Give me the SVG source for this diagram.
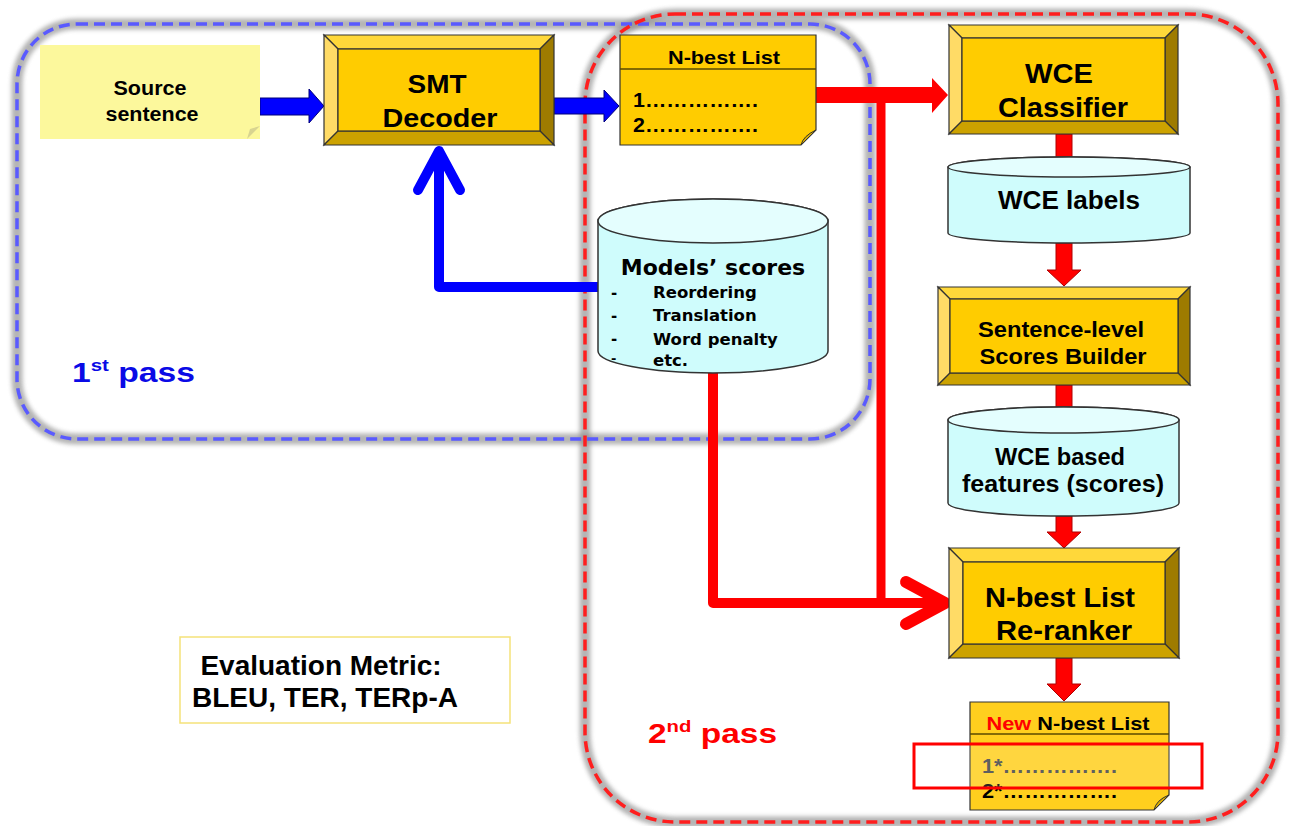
<svg xmlns="http://www.w3.org/2000/svg" width="1290" height="826" viewBox="0 0 1290 826">
<defs>
<filter id="blur" x="-5%" y="-5%" width="110%" height="110%"><feGaussianBlur stdDeviation="2"/></filter>
<style>
.lbl{font-family:"Liberation Sans",Arial,sans-serif;font-weight:bold;fill:#000;text-anchor:middle}
.ver{font-family:"DejaVu Sans",Verdana,sans-serif;font-weight:bold;fill:#000}
.face{fill:#FFCC00;stroke:#333;stroke-width:1.2}
.bt{fill:#FFD83A;stroke:#333;stroke-width:1.2}
.bl{fill:#FFDB66;stroke:#333;stroke-width:1.2}
.br{fill:#9E7B00;stroke:#333;stroke-width:1.2}
.bb{fill:#CCA200;stroke:#333;stroke-width:1.2}
.cyl{fill:#CFFCFC;stroke:#333;stroke-width:1.5}
.cyltop{fill:#E4FEFE;stroke:#333;stroke-width:1.5}
.shadow{fill:none;stroke:#8c8c8c;stroke-width:11;opacity:0.65;filter:url(#blur)}
.note{fill:#FFCC00;stroke:#333;stroke-width:1.2}
.fold{fill:#D9AD00;stroke:#333;stroke-width:1}
.redline{fill:none;stroke:#FF0000;stroke-linejoin:round;stroke-linecap:round}
.downarrow{fill:#FF0000;stroke:#B00000;stroke-width:1}
</style>
</defs>

<g id="regions">
  <path class="shadow" d="M77,24 H810 A60,60 0 0 1 870,84 V379 A60,60 0 0 1 810,439 H77 A60,60 0 0 1 17,379 V84 A60,60 0 0 1 77,24 Z"/>
  <path class="shadow" d="M675,14 H1188 A90,90 0 0 1 1278,104 V732 A90,90 0 0 1 1188,822 H675 A90,90 0 0 1 585,732 V104 A90,90 0 0 1 675,14 Z"/>
  <path id="pass1-border" fill="none" stroke="#5A5AFF" stroke-width="3.5" stroke-dasharray="11 6" d="M77,24 H810 A60,60 0 0 1 870,84 V379 A60,60 0 0 1 810,439 H77 A60,60 0 0 1 17,379 V84 A60,60 0 0 1 77,24 Z"/>
  <path id="pass2-border" fill="none" stroke="#FF1E1E" stroke-width="3.5" stroke-dasharray="11 6" d="M675,14 H1188 A90,90 0 0 1 1278,104 V732 A90,90 0 0 1 1188,822 H675 A90,90 0 0 1 585,732 V104 A90,90 0 0 1 675,14 Z"/>
  <text x="72" y="382" textLength="123" lengthAdjust="spacingAndGlyphs" style="font-family:'Liberation Sans',Arial,sans-serif;font-weight:bold;font-size:28px;fill:#0A0AE6">1<tspan font-size="17" dy="-11">st</tspan><tspan dy="11"> pass</tspan></text>
  <text x="648" y="743" textLength="129" lengthAdjust="spacingAndGlyphs" style="font-family:'Liberation Sans',Arial,sans-serif;font-weight:bold;font-size:28px;fill:#FF0000">2<tspan font-size="17" dy="-11">nd</tspan><tspan dy="11"> pass</tspan></text>
</g>

<g id="connectors">
  <polygon fill="#0000FF" stroke="#00007A" stroke-width="1" points="260,98 309,98 309,89 324,106 309,123 309,115 260,115"/>
  <polygon fill="#0000FF" stroke="#00007A" stroke-width="1" points="554,98 604,98 604,90 619,106 604,122 604,114 554,114"/>
  <path fill="none" stroke="#0000FF" stroke-width="10" stroke-linejoin="round" d="M598,287 H439 V152"/>
  <path fill="none" stroke="#0000FF" stroke-width="10" stroke-linecap="round" stroke-linejoin="round" d="M418,190 L439,151 L460,190"/>
  <polygon fill="#FF0000" points="816,87 932,87 932,78 948,95 932,113 932,103 816,103"/>
  <path class="redline" stroke-width="9" stroke-linecap="butt" d="M881,96 V603"/>
  <path class="redline" stroke-width="10" d="M713,373 V603 H942"/>
  <path class="redline" stroke-width="12" d="M906,582 L945,603 L906,624"/>
  <polygon class="downarrow" points="1056,134 1072,134 1072,161 1081,161 1064,177 1047,161 1056,161"/>
  <polygon class="downarrow" points="1056,243 1072,243 1072,270 1081,270 1064,286 1047,270 1056,270"/>
  <polygon class="downarrow" points="1056,385 1072,385 1072,412 1081,412 1064,428 1047,412 1056,412"/>
  <polygon class="downarrow" points="1056,516 1072,516 1072,532 1081,532 1064,548 1047,532 1056,532"/>
  <polygon class="downarrow" points="1056,658 1072,658 1072,684 1081,684 1064,701 1047,684 1056,684"/>
</g>

<g id="source-sentence">
  <rect x="40" y="45" width="220" height="94" fill="#FCF89C"/>
  <path d="M260,126 L247,139 L250,129 Z" fill="#D8D490"/>
  <text class="lbl" x="150" y="95" font-size="20" textLength="73" lengthAdjust="spacingAndGlyphs">Source</text>
  <text class="lbl" x="152" y="121" font-size="20" textLength="93" lengthAdjust="spacingAndGlyphs">sentence</text>
</g>

<g id="smt-decoder">
  <polygon class="bt" points="324,35 554,35 540,49 338,49"/>
  <polygon class="bl" points="324,35 338,49 338,131 324,145"/>
  <polygon class="br" points="554,35 554,145 540,131 540,49"/>
  <polygon class="bb" points="324,145 338,131 540,131 554,145"/>
  <rect class="face" x="338" y="49" width="202" height="82"/>
  <text class="lbl" x="437" y="93" font-size="26" textLength="59" lengthAdjust="spacingAndGlyphs">SMT</text>
  <text class="lbl" x="440" y="127" font-size="26" textLength="115" lengthAdjust="spacingAndGlyphs">Decoder</text>
</g>

<g id="nbest-list">
  <path class="note" d="M620,35 H816 V130 L801,145 H620 Z"/>
  <path class="fold" d="M816,130 L801,145 Q803,136 816,130 Z"/>
  <line x1="620" y1="69" x2="816" y2="69" stroke="#5a4a00" stroke-width="1.5"/>
  <text class="lbl" x="724" y="64" font-size="18" textLength="112" lengthAdjust="spacingAndGlyphs">N-best List</text>
  <text class="lbl" x="633" y="107" font-size="20" style="text-anchor:start" textLength="125" lengthAdjust="spacingAndGlyphs">1…………….</text>
  <text class="lbl" x="633" y="132" font-size="20" style="text-anchor:start" textLength="125" lengthAdjust="spacingAndGlyphs">2…………….</text>
</g>

<g id="models-scores">
  <path class="cyl" d="M598,221 A115,22 0 0 1 828,221 V351 A115,22 0 0 1 598,351 Z"/>
  <ellipse class="cyltop" cx="713" cy="221" rx="115" ry="22"/>
  <text class="ver" x="713" y="275" font-size="22" text-anchor="middle">Models’ scores</text>
  <text class="ver" x="611" y="298" font-size="15">-</text>
  <text class="ver" x="611" y="321" font-size="15">-</text>
  <text class="ver" x="611" y="344" font-size="15">-</text>
  <text class="ver" x="611" y="363" font-size="13">-</text>
  <text class="ver" x="653" y="298" font-size="16.5">Reordering</text>
  <text class="ver" x="653" y="321" font-size="16.5">Translation</text>
  <text class="ver" x="653" y="345" font-size="16.5">Word penalty</text>
  <text class="ver" x="653" y="366" font-size="16.5">etc.</text>
</g>

<g id="wce-classifier">
  <polygon class="bt" points="949,25 1178,25 1165,38 962,38"/>
  <polygon class="bl" points="949,25 962,38 962,121 949,134"/>
  <polygon class="br" points="1178,25 1178,134 1165,121 1165,38"/>
  <polygon class="bb" points="949,134 962,121 1165,121 1178,134"/>
  <rect class="face" x="962" y="38" width="203" height="83"/>
  <text class="lbl" x="1059" y="83" font-size="28" textLength="68" lengthAdjust="spacingAndGlyphs">WCE</text>
  <text class="lbl" x="1063" y="117" font-size="27" textLength="130" lengthAdjust="spacingAndGlyphs">Classifier</text>
</g>

<g id="wce-labels">
  <path class="cyl" d="M948,167 A121,10 0 0 1 1190,167 V233 A121,10 0 0 1 948,233 Z"/>
  <ellipse class="cyltop" cx="1069" cy="167" rx="121" ry="10"/>
  <text class="lbl" x="1069" y="209" font-size="25" textLength="142" lengthAdjust="spacingAndGlyphs">WCE labels</text>
</g>

<g id="scores-builder">
  <polygon class="bt" points="938,287 1190,287 1178,299 950,299"/>
  <polygon class="bl" points="938,287 950,299 950,373 938,385"/>
  <polygon class="br" points="1190,287 1190,385 1178,373 1178,299"/>
  <polygon class="bb" points="938,385 950,373 1178,373 1190,385"/>
  <rect class="face" x="950" y="299" width="228" height="74"/>
  <text class="lbl" x="1061" y="337" font-size="22" textLength="166" lengthAdjust="spacingAndGlyphs">Sentence-level</text>
  <text class="lbl" x="1063" y="364" font-size="22" textLength="167" lengthAdjust="spacingAndGlyphs">Scores Builder</text>
</g>

<g id="wce-features">
  <path class="cyl" d="M948,420 A115.5,13 0 0 1 1179,420 V503 A115.5,13 0 0 1 948,503 Z"/>
  <ellipse class="cyltop" cx="1063.5" cy="420" rx="115.5" ry="13"/>
  <text class="lbl" x="1060" y="465" font-size="23" textLength="130" lengthAdjust="spacingAndGlyphs">WCE based</text>
  <text class="lbl" x="1063" y="492" font-size="23" textLength="202" lengthAdjust="spacingAndGlyphs">features (scores)</text>
</g>

<g id="reranker">
  <polygon class="bt" points="949,548 1179,548 1165,562 963,562"/>
  <polygon class="bl" points="949,548 963,562 963,644 949,658"/>
  <polygon class="br" points="1179,548 1179,658 1165,644 1165,562"/>
  <polygon class="bb" points="949,658 963,644 1165,644 1179,658"/>
  <rect class="face" x="963" y="562" width="202" height="82"/>
  <text class="lbl" x="1060" y="607" font-size="28" textLength="150" lengthAdjust="spacingAndGlyphs">N-best List</text>
  <text class="lbl" x="1064" y="640" font-size="28" textLength="136" lengthAdjust="spacingAndGlyphs">Re-ranker</text>
</g>

<g id="new-nbest-list">
  <path d="M970,702 H1169 V795 L1154,810 H970 Z" fill="#FFCF1E" stroke="#333" stroke-width="1.2"/>
  <path class="fold" d="M1169,795 L1154,810 Q1156,800 1169,795 Z"/>
  <line x1="970" y1="734" x2="1169" y2="734" stroke="#5a4a00" stroke-width="1.5"/>
  <text class="lbl" x="1068" y="730" font-size="19" textLength="163" lengthAdjust="spacingAndGlyphs"><tspan fill="#FF0000">New</tspan> N-best List</text>
  <text class="lbl" x="982" y="773" font-size="20" style="text-anchor:start;fill:#444" textLength="135" lengthAdjust="spacingAndGlyphs">1*…………….</text>
  <text class="lbl" x="982" y="798" font-size="20" style="text-anchor:start" textLength="135" lengthAdjust="spacingAndGlyphs">2*…………….</text>
  <rect x="914" y="744" width="288" height="44" fill="#FFFFFF" fill-opacity="0.15" stroke="#FF0000" stroke-width="3"/>
</g>

<g id="evaluation-metric">
  <rect x="180" y="637" width="330" height="86" fill="#FFFFFF" stroke="#F5E27A" stroke-width="1.5"/>
  <text class="lbl" x="321" y="675" font-size="28">Evaluation Metric:</text>
  <text class="lbl" x="325" y="707" font-size="28">BLEU, TER, TERp-A</text>
</g>
</svg>
